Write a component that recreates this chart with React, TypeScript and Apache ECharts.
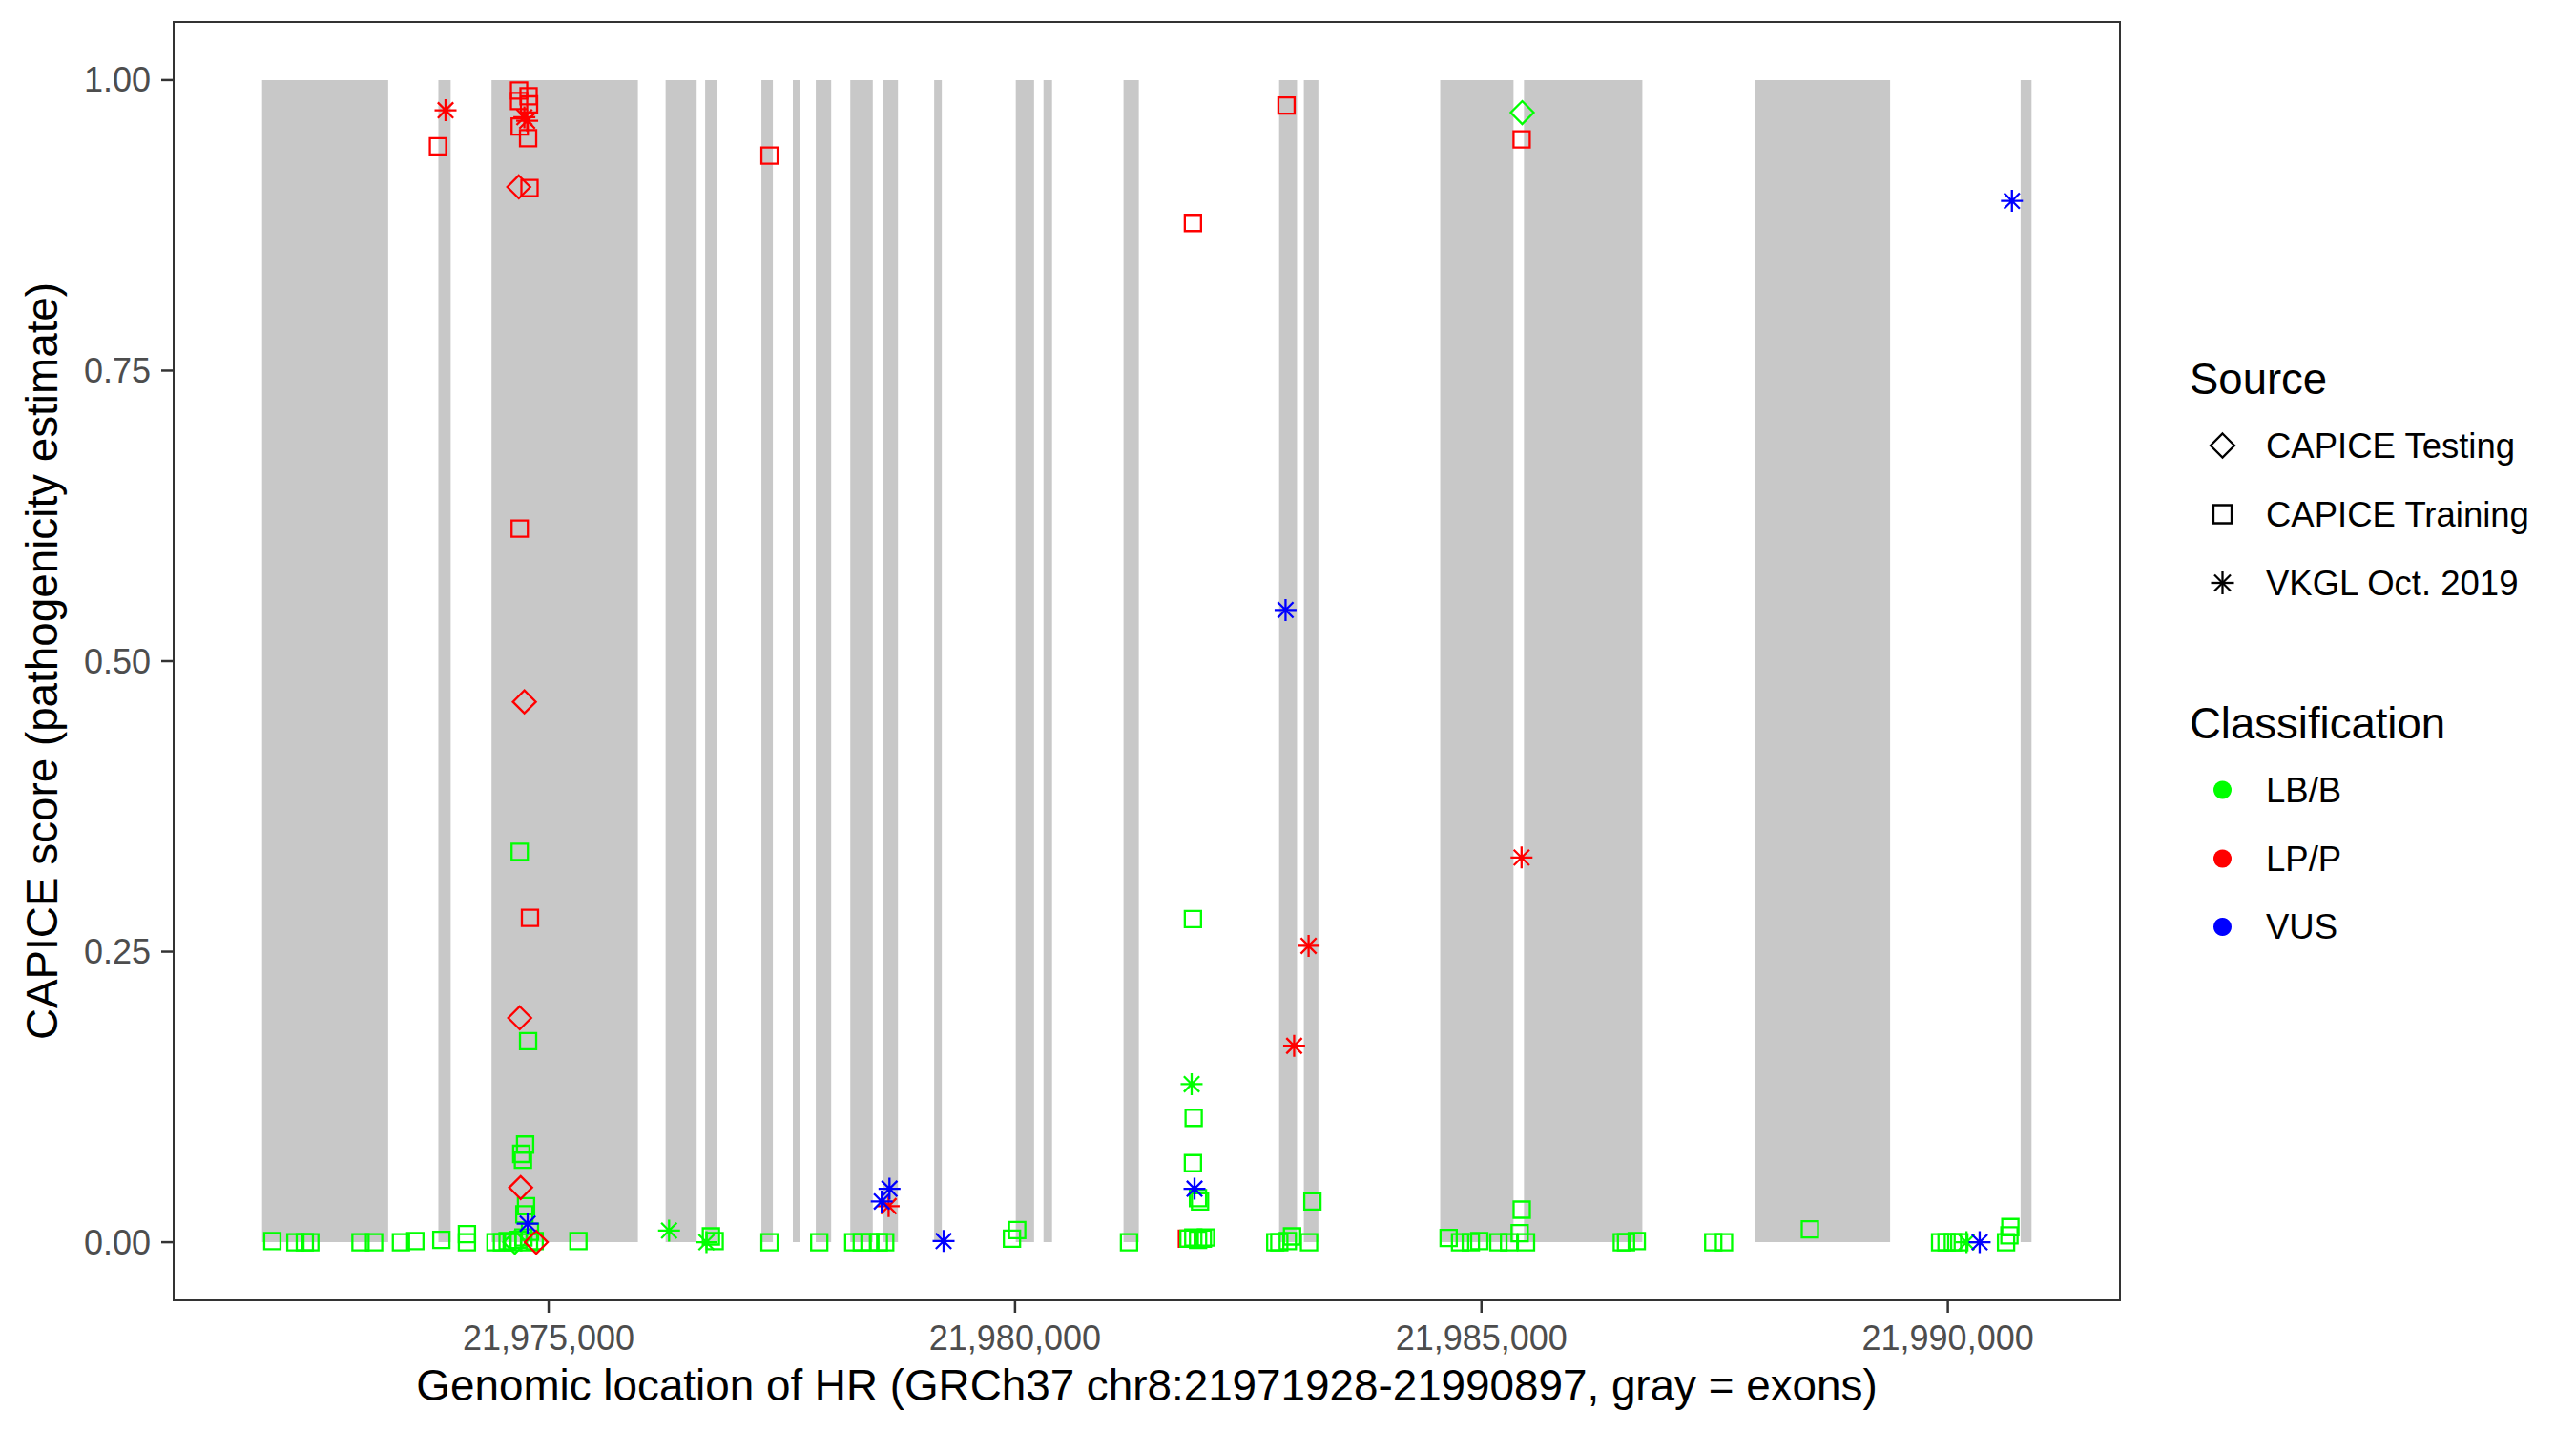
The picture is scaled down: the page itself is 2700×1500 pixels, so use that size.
import React, { useEffect, useRef } from "react";
import * as echarts from "echarts";

// ---- axis ticks ----
const xTicks = [21975000, 21980000, 21985000, 21990000];
const yTicks = [0, 0.25, 0.5, 0.75, 1.0];
const X_MIN = 21970980;
const X_MAX = 21991845;
const Y_MIN = -0.05;
const Y_MAX = 1.05;

// ---- exons (gray bands) ----
const exonStarts = [21971928, 21973818, 21974388, 21976254, 21976678, 21977281, 21977618, 21977864, 21978234, 21978581, 21979133, 21980008, 21980305, 21981163, 21982831, 21983096, 21984558, 21985456, 21987938, 21990780];
const exonEnds = [21973280, 21973950, 21975957, 21976587, 21976802, 21977404, 21977691, 21978029, 21978475, 21978745, 21979215, 21980204, 21980397, 21981327, 21983023, 21983252, 21985344, 21986725, 21989381, 21990897];

// ---- CAPICE Training (squares) ----
const trainingLPP = [
  [21981843, 0.003], [21973814, 0.943], [21974683, 0.991], [21974683, 0.982], [21974785, 0.986], [21974790, 0.979],
  [21974690, 0.960], [21974780, 0.950], [21974795, 0.907], [21974690, 0.614], [21974800, 0.279],
  [21977368, 0.935], [21981907, 0.877], [21982910, 0.978], [21985431, 0.949],
];
const trainingLBB = [
  [21972038, 0.001], [21972285, 0.0], [21972386, 0.0], [21972445, 0.0], [21972983, 0.0], [21973129, 0.0],
  [21973417, 0.0], [21973571, 0.001], [21973850, 0.002], [21974124, 0.0], [21974124, 0.007], [21974430, 0.0],
  [21974500, 0.0], [21974560, 0.001], [21974620, 0.0], [21974680, 0.002], [21974730, 0.004], [21974790, 0.0],
  [21974850, 0.001], [21975319, 0.001],
  [21974748, 0.084], [21974707, 0.076], [21974725, 0.071], [21974758, 0.031], [21974740, 0.024], [21974800, 0.009],
  [21974690, 0.336], [21974780, 0.173],
  [21976740, 0.005], [21976780, 0.001], [21977368, 0.0], [21977901, 0.0], [21978266, 0.0], [21978357, 0.0],
  [21978449, 0.0], [21978540, 0.0], [21978608, 0.0], [21979967, 0.003], [21980023, 0.0104], [21981222, 0.0],
  [21981907, 0.278], [21981915, 0.107], [21981907, 0.068], [21981961, 0.038], [21981983, 0.035],
  [21981860, 0.003], [21981911, 0.004], [21981962, 0.002], [21982013, 0.003], [21982047, 0.004],
  [21982790, 0.0], [21982833, 0.0], [21982924, 0.001], [21982970, 0.005], [21983152, 0.0], [21983188, 0.035],
  [21984648, 0.0036], [21984771, 0.0], [21984886, 0.0], [21984977, 0.001], [21985182, 0.0], [21985296, 0.0],
  [21985410, 0.0077], [21985432, 0.028], [21985478, 0.0], [21986505, 0.0], [21986550, 0.0], [21986665, 0.001],
  [21987485, 0.0], [21987600, 0.0], [21988521, 0.011], [21989917, 0.0], [21989986, 0.0], [21990054, 0.0],
  [21990123, 0.0], [21990624, 0.0], [21990670, 0.013], [21990660, 0.006],
];

// ---- CAPICE Testing (diamonds) ----
const testingLBB = [[21974638, 0.0], [21985437, 0.972]];
const testingLPP = [[21974680, 0.908], [21974740, 0.465], [21974690, 0.193], [21974700, 0.047], [21974867, 0.0]];

// ---- VKGL Oct. 2019 (asterisks) ----
const vkglLBB = [[21976291, 0.01], [21976692, 0.0], [21981893, 0.136], [21990200, 0.0]];
const vkglLPP = [[21973895, 0.974], [21974740, 0.968], [21974770, 0.965], [21978645, 0.031], [21982992, 0.169], [21983147, 0.255], [21985430, 0.331]];
const vkglVUS = [[21974775, 0.016], [21978654, 0.046], [21978571, 0.035], [21979234, 0.001], [21981924, 0.046], [21982900, 0.544], [21990687, 0.896], [21990341, 0.0]];

const sourceNames = ["CAPICE Testing", "CAPICE Training", "VKGL Oct. 2019"];
const classNames = ["LB/B", "LP/P", "VUS"];
const classColors = ["#00FF00", "#FF0000", "#0000FF"];

const FONT = "'Liberation Sans', Arial, Helvetica, sans-serif";
const STAR = "path://M12 0 L12 24 M0 12 L24 12 M3.5 3.5 L20.5 20.5 M3.5 20.5 L20.5 3.5";
const LW = 2.3;
const TICK_LEN = 13;

function fmtComma(v: number) {
  return String(Math.round(v)).replace(/\B(?=(\d{3})+(?!\d))/g, ",");
}

function scatter(name: string, data: number[][], symbol: string, size: number, color: string, z: number) {
  return {
    name,
    type: "scatter",
    data,
    symbol,
    symbolSize: size,
    z,
    silent: true,
    itemStyle: { color: "transparent", borderColor: color, borderWidth: LW, opacity: 1 },
    emphasis: { disabled: true },
  };
}

export default function App() {
  const ref = useRef<HTMLDivElement>(null);
  useEffect(() => {
    if (!ref.current) return;
    const chart = echarts.init(ref.current, undefined, { renderer: "svg" });

    const kx = 2329.5;
    const tx = 2375;
    const srcY = [467, 539, 611];
    const clsY = [828, 900, 971.5];
    const graphics: any[] = [
      { type: "text", x: 1202, y: 1452, style: { text: "Genomic location of HR (GRCh37 chr8:21971928-21990897, gray = exons)", font: `45.8px ${FONT}`, fill: "#000", textAlign: "center", textVerticalAlign: "middle" } },
      { type: "text", x: 44, y: 693, rotation: Math.PI / 2, style: { text: "CAPICE score (pathogenicity estimate)", font: `45.8px ${FONT}`, fill: "#000", textAlign: "center", textVerticalAlign: "middle" } },
      { type: "text", x: 2295, y: 397, style: { text: "Source", font: `45.5px ${FONT}`, fill: "#000", textAlign: "left", textVerticalAlign: "middle" } },
      { type: "text", x: 2295, y: 758, style: { text: "Classification", font: `45.5px ${FONT}`, fill: "#000", textAlign: "left", textVerticalAlign: "middle" } },
      { type: "polygon", shape: { points: [[kx, srcY[0] - 12.5], [kx + 12.5, srcY[0]], [kx, srcY[0] + 12.5], [kx - 12.5, srcY[0]]] }, style: { fill: "none", stroke: "#000", lineWidth: LW } },
      { type: "rect", shape: { x: kx - 9.5, y: srcY[1] - 9.5, width: 19, height: 19 }, style: { fill: "none", stroke: "#000", lineWidth: LW } },
      { type: "line", shape: { x1: kx, y1: srcY[2] - 12, x2: kx, y2: srcY[2] + 12 }, style: { stroke: "#000", lineWidth: LW } },
      { type: "line", shape: { x1: kx - 12, y1: srcY[2], x2: kx + 12, y2: srcY[2] }, style: { stroke: "#000", lineWidth: LW } },
      { type: "line", shape: { x1: kx - 8.5, y1: srcY[2] - 8.5, x2: kx + 8.5, y2: srcY[2] + 8.5 }, style: { stroke: "#000", lineWidth: LW } },
      { type: "line", shape: { x1: kx - 8.5, y1: srcY[2] + 8.5, x2: kx + 8.5, y2: srcY[2] - 8.5 }, style: { stroke: "#000", lineWidth: LW } },
    ];
    sourceNames.forEach((n, i) => {
      graphics.push({ type: "text", x: tx, y: srcY[i], style: { text: n, font: `36.5px ${FONT}`, fill: "#000", textAlign: "left", textVerticalAlign: "middle" } });
    });
    classNames.forEach((n, i) => {
      graphics.push({ type: "circle", shape: { cx: kx, cy: clsY[i], r: 9.5 }, style: { fill: classColors[i] } });
      graphics.push({ type: "text", x: tx, y: clsY[i], style: { text: n, font: `36.5px ${FONT}`, fill: "#000", textAlign: "left", textVerticalAlign: "middle" } });
    });

    const baseOption: any = {
      animation: false,
      backgroundColor: "#ffffff",
      grid: { left: 182, right: 478, top: 23, bottom: 137, show: true, borderColor: "#333333", borderWidth: 2, backgroundColor: "transparent" },
      xAxis: {
        type: "value",
        min: X_MIN,
        max: X_MAX,
        axisLine: { show: false, onZero: false },
        splitLine: { show: false },
        axisTick: { show: false },
        axisLabel: { customValues: xTicks, formatter: (v: number) => fmtComma(v), fontSize: 36, fontFamily: FONT, color: "#4D4D4D", margin: 21 },
      },
      yAxis: {
        type: "value",
        min: Y_MIN,
        max: Y_MAX,
        axisLine: { show: false, onZero: false },
        splitLine: { show: false },
        axisTick: { show: false },
        axisLabel: { customValues: yTicks, formatter: (v: number) => v.toFixed(2), fontSize: 36, fontFamily: FONT, color: "#4D4D4D", margin: 24 },
      },
      series: [
        {
          type: "custom",
          name: "exons",
          silent: true,
          z: 1,
          data: exonStarts.map((s, i) => [s, exonEnds[i], 0, 1]),
          encode: { x: [0, 1], y: [2, 3] },
          renderItem: (params: any, api: any) => {
            const p0 = api.coord([api.value(0), api.value(3)]);
            const p1 = api.coord([api.value(1), api.value(2)]);
            return { type: "rect", shape: { x: p0[0], y: p0[1], width: p1[0] - p0[0], height: p1[1] - p0[1] }, style: { fill: "#C8C8C8" } };
          },
        },
        scatter("CAPICE Training LP/P", trainingLPP, "rect", 17, classColors[1], 2),
        scatter("CAPICE Training LB/B", trainingLBB, "rect", 17, classColors[0], 3),
        scatter("CAPICE Testing LB/B", testingLBB, "diamond", 24, classColors[0], 4),
        scatter("CAPICE Testing LP/P", testingLPP, "diamond", 24, classColors[1], 4),
        scatter("VKGL LB/B", vkglLBB, STAR, 23, classColors[0], 5),
        scatter("VKGL LP/P", vkglLPP, STAR, 23, classColors[1], 5),
        scatter("VKGL VUS", vkglVUS, STAR, 23, classColors[2], 6),
      ],
    };
    chart.setOption(baseOption);

    // axis ticks placed through the chart's own scales (pixel positions of the tick values)
    const tickEls: any[] = [];
    xTicks.forEach((v) => {
      const px = chart.convertToPixel({ xAxisIndex: 0 }, v) as number;
      const py = chart.convertToPixel({ yAxisIndex: 0 }, Y_MIN) as number;
      tickEls.push({ type: "rect", z: 100, shape: { x: px - 1.25, y: py, width: 2.5, height: TICK_LEN }, style: { fill: "#333333" } });
    });
    yTicks.forEach((v) => {
      const px = chart.convertToPixel({ xAxisIndex: 0 }, X_MIN) as number;
      const py = chart.convertToPixel({ yAxisIndex: 0 }, v) as number;
      tickEls.push({ type: "rect", z: 100, shape: { x: px - TICK_LEN, y: py - 1.25, width: TICK_LEN, height: 2.5 }, style: { fill: "#333333" } });
    });
    chart.setOption({ graphic: { elements: graphics.concat(tickEls) } });

    return () => chart.dispose();
  }, []);
  return <div ref={ref} style={{ position: "fixed", left: 0, top: 0, width: "2700px", height: "1500px", background: "#fff" }} />;
}
